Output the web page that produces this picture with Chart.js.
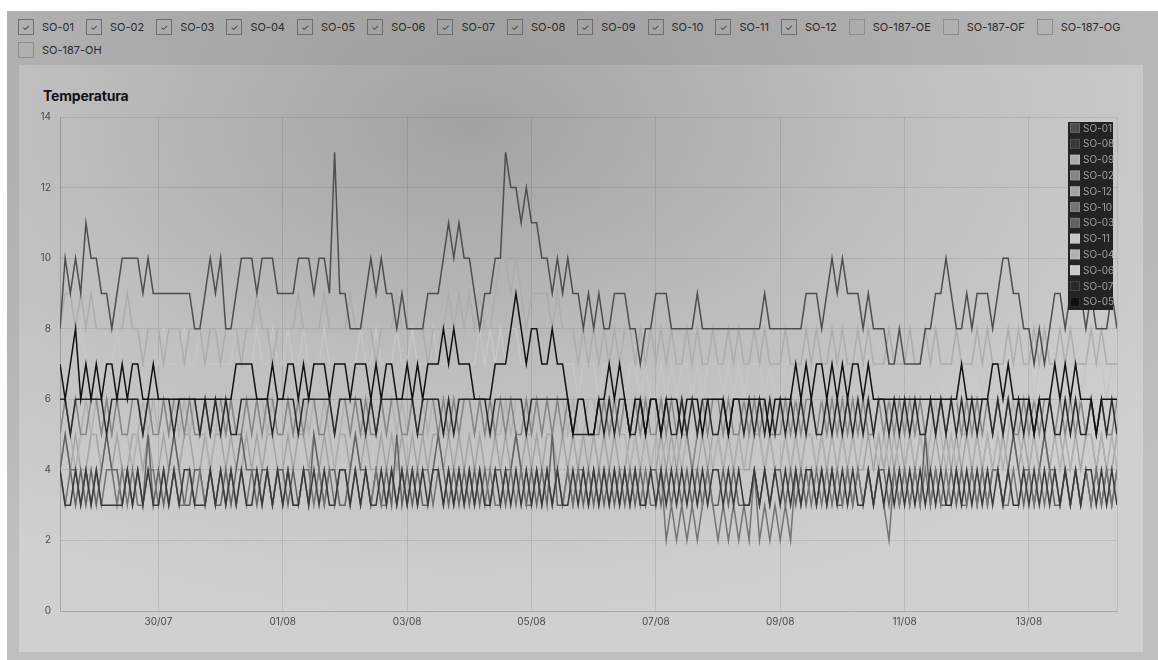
<!DOCTYPE html>
<html>
<head>
<meta charset="utf-8">
<script src="https://cdn.jsdelivr.net/npm/chart.js@4.4.0/dist/chart.umd.min.js"></script>
<style>
  html, body { margin: 0; padding: 0; width: 1158px; height: 660px; overflow: hidden; background: #fff; font-family: Inter, "Noto Sans", sans-serif; }
  #wrap { position: absolute; left: 7px; top: 11px; width: 1151px; height: 649px;
    background: radial-gradient(ellipse 75% 85% at 42% 14%, #9c9c9c 0%, #b0b0b0 55%, #bfbfbf 100%); }
  #bar { position: absolute; left: 11px; top: 8px; width: 1132px; display: flex; flex-wrap: wrap; row-gap: 7px; column-gap: 12px; }
  .item { display: flex; align-items: center; height: 16px; font-size: 11px; color: #2a2a2a; white-space: nowrap; }
  .box { box-sizing: border-box; width: 16px; height: 16px; border: 1px solid #6e6e6e; margin-right: 8px;
    display: flex; align-items: center; justify-content: center; font-size: 9px; color: #333; }
  .box.off { border-color: #8e8e8e; }
  #card { position: absolute; left: 12px; top: 54px; width: 1124px; height: 587px;
    background: radial-gradient(ellipse 75% 85% at 40% 10%, #a2a2a2 0%, #bebebe 50%, #d0d0d0 100%); }
  #title { position: absolute; left: 43px; top: 87px; font-size: 14px; font-weight: 700; color: #111; letter-spacing: -0.2px; }
  canvas { position: absolute; left: 0; top: 0; }
</style>
</head>
<body>
<div id="wrap">
  <div id="bar"></div>
  <div id="card"></div>
</div>
<div id="title">Temperatura</div>
<canvas id="tempChart" width="1158" height="660"></canvas>
<script>
// every 2 hours, starting 28/07 10:00 ; one block per day (a=10, b=11 ...)
const firstHour = 10;
const stepHours = 2;

const so01 = '8a9a9ba a9989aaaa9a9 9999999889a9 a889aaa9aaa9 999aaa9aa9d9 98889a9a9989 8888999ababa a9899aadccbc bbaa9a9a9989 898899988788 999888889888 888888888988 8888899989a9 a99989888778 77778899a988 9899989aa998 878789989998 988898';
const so08 = '4334343 433333434343 343434433343 434343343434 343343434334 434343343434 343434434343 434334343434 343434334343 434343434334 343434343434 434343343434 343434434343 434334343434 343434343343 434343434334 343434343434 434343';
const so09 = '8998989 888888988788 878887888788 788878898878 888988889888 898888788898 888878889898 989889aa9a98 999989888787 878787887878 787877878778 778787787877 787778787787 877878777877 787787877787 778787778787 787877878777 878777';
const so02 = '5656556 656565566565 565665655656 656556565665 565656655656 656565565665 565566565656 656565656556 565656565665 556565656565 565656545656 656556565655 565656656565 656565565656 565656565665 656565656556 565665656565 656556';
const so12 = '4545445 545454455454 454545544545 545445454554 454554545445 545454454545 454545545454 545445454545 454554545454 545454455454 454545544545 545454455454 454545545454 545445454545 454554545454 545454454545 454545544545 545445';
const so10 = '4344343 434434343344 343433434343 434343443434 343344343434 434343433434 343443434343 434343344343 343434343443 434343434343 342323232343 232323242323 232434343434 343434343243 434343434343 343434433434 434344343434 343434';
const so03 = '4543434 345443434353 434543344343 343454434434 434343543443 345443434353 434334543434 343434434543 434353343434 343434343434 434343434343 343433343434 434343434343 343434344343 434353433434 343434434543 434543343434 343434';
const so11 = '7777877 777787777677 787778778777 777877787787 787787778777 777877877787 787778777877 778787878877 887787777677 767767677676 676767767677 767676777676 677677676776 767767777677 776777677767 777677767777 767777677767 777677';
const so04 = '5654565 656565545656 565656565545 656556566565 565665656545 656556565656 565656655656 656565565665 565656656556 656565545454 545454545654 545454565454 454545545454 545456545454 454545654545 545454545654 454545454565 545454';
const so06 = '5545554 455454545545 554545455454 455455454545 545545545455 455454554545 545545454554 455454545545 545545454554 454554545455 545455454545 455454545545 545545455454 455454545545 545545454554 454554545455 545455454545 455454';
const so07 = '6656666 665666666566 666566665656 565566666656 666566666656 666656566666 665666656566 666656666665 666666665555 565656655656 656556565665 565665656565 656565655656 565656566565 656556565656 565665656565 656565565655 656565';
const so05 = '7678676 767767677667 666666666666 666777766676 677676777677 767776767766 767677787877 766667778987 887787765665 566767656656 656665666566 665666666656 666767677676 767767666666 666666666667 666667767666 656667676766 656666';

const sensors = ['SO-01', 'SO-02', 'SO-03', 'SO-04', 'SO-05', 'SO-06', 'SO-07', 'SO-08', 'SO-09', 'SO-10', 'SO-11', 'SO-12', 'SO-187-OE', 'SO-187-OF', 'SO-187-OG', 'SO-187-OH'];
const legendOrder = ['SO-01', 'SO-08', 'SO-09', 'SO-02', 'SO-12', 'SO-10', 'SO-03', 'SO-11', 'SO-04', 'SO-06', 'SO-07', 'SO-05'];
const drawOrder = ['SO-05', 'SO-01', 'SO-07', 'SO-08', 'SO-09', 'SO-11', 'SO-10', 'SO-03', 'SO-02', 'SO-04', 'SO-12', 'SO-06'];
const series = {
  'SO-01': so01, 'SO-08': so08, 'SO-09': so09, 'SO-02': so02, 'SO-12': so12, 'SO-10': so10,
  'SO-03': so03, 'SO-11': so11, 'SO-04': so04, 'SO-06': so06, 'SO-07': so07, 'SO-05': so05
};
const colors = {
  'SO-01': '#4e4e4e', 'SO-08': '#383838', 'SO-09': '#adadad', 'SO-02': '#868686', 'SO-12': '#a4a4a4', 'SO-10': '#737373',
  'SO-03': '#626262', 'SO-11': '#c6c6c6', 'SO-04': '#b1b1b1', 'SO-06': '#c9c9c9', 'SO-07': '#2a2a2a', 'SO-05': '#111111'
};
const yTicks = [0, 2, 4, 6, 8, 10, 12, 14];

// top checkbox bar
const bar = document.getElementById('bar');
sensors.forEach(name => {
  const on = !!series[name];
  const el = document.createElement('div');
  el.className = 'item';
  el.innerHTML = '<span class="box' + (on ? '' : ' off') + '">' + (on ? '&#10003;' : '') + '</span>' + name;
  bar.appendChild(el);
});

function decode(str) {
  return str.replace(/\s/g, '').split('').map(c => parseInt(c, 36));
}

function dayLabel(h) {
  const d = new Date(Date.UTC(2023, 6, 28) + h * 3600000);
  const dd = String(d.getUTCDate()).padStart(2, '0');
  const mm = String(d.getUTCMonth() + 1).padStart(2, '0');
  return dd + '/' + mm;
}

const datasets = legendOrder.map(name => {
  const vals = decode(series[name]);
  return {
    label: name,
    data: vals.map((v, i) => ({ x: firstHour + i * stepHours, y: v })),
    borderColor: colors[name],
    backgroundColor: colors[name],
    borderWidth: 1.5,
    pointRadius: 0,
    tension: 0,
    fill: false,
    order: drawOrder.indexOf(name)
  };
});
const lastHour = firstHour + (decode(so01).length - 1) * stepHours;

const legendBox = {
  id: 'legendBox',
  afterDraw(chart) {
    const { ctx, chartArea } = chart;
    const x = chartArea.right - 49;
    const y = chartArea.top + 5;
    const rowH = 15.8;
    ctx.save();
    ctx.fillStyle = '#232323';
    ctx.fillRect(x, y, 45, 188);
    ctx.font = '10px Inter';
    ctx.textBaseline = 'middle';
    legendOrder.forEach((name, k) => {
      const cy = y + 6 + k * rowH;
      ctx.fillStyle = colors[name];
      ctx.fillRect(x + 2, cy - 5, 10, 10);
      ctx.strokeStyle = 'rgba(255,255,255,0.12)';
      ctx.lineWidth = 1;
      ctx.strokeRect(x + 2.5, cy - 4.5, 9, 9);
      ctx.fillStyle = '#a0a0a0';
      ctx.fillText(name, x + 15, cy + 0.5);
    });
    ctx.restore();
  }
};

new Chart(document.getElementById('tempChart'), {
  type: 'line',
  data: { datasets: datasets },
  options: {
    responsive: false,
    animation: false,
    parsing: false,
    devicePixelRatio: 1,
    layout: { padding: { left: 40, right: 41, top: 117, bottom: 29 } },
    plugins: { legend: { display: false }, tooltip: { enabled: false } },
    scales: {
      x: {
        type: 'linear',
        min: firstHour,
        max: lastHour,
        afterFit(scale) { scale.height = 20; },
        grid: { color: 'rgba(0,0,0,0.09)', drawTicks: false },
        border: { color: 'rgba(0,0,0,0.12)' },
        ticks: {
          stepSize: 48,
          maxRotation: 0,
          autoSkip: false,
          padding: 5,
          color: '#4a4a4a',
          font: { family: 'Inter', size: 10 },
          callback: v => (v % 48 === 0 ? dayLabel(v) : '')
        }
      },
      y: {
        min: yTicks[0],
        max: yTicks[yTicks.length - 1],
        afterFit(scale) { scale.width = 20; },
        afterBuildTicks(scale) { scale.ticks = yTicks.map(v => ({ value: v })); },
        grid: { color: 'rgba(0,0,0,0.09)', drawTicks: false },
        border: { color: 'rgba(0,0,0,0.12)' },
        ticks: { padding: 9, color: '#4a4a4a', font: { family: 'Inter', size: 10 } }
      }
    }
  },
  plugins: [legendBox]
});
</script>
</body>
</html>
